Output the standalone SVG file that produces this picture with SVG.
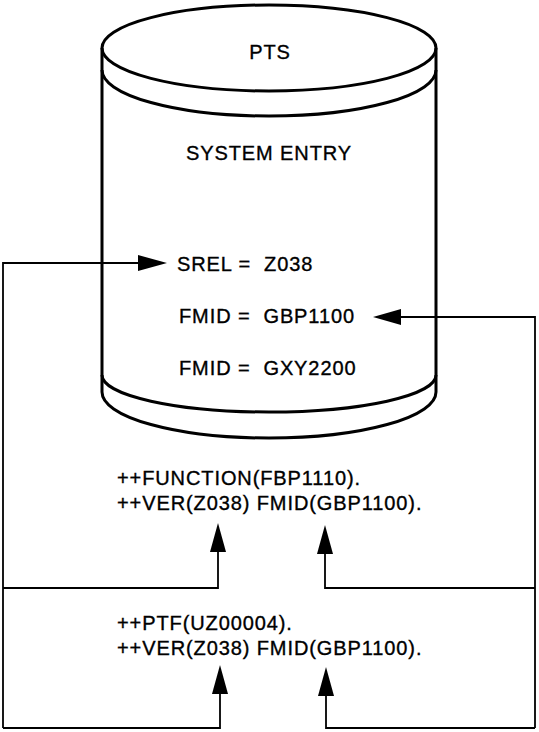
<svg xmlns="http://www.w3.org/2000/svg" width="539" height="732" viewBox="0 0 539 732">
<style>
.t{font-family:"Liberation Sans",Arial,Helvetica,sans-serif;font-size:20px;fill:#000;stroke:#000;stroke-width:0.35;letter-spacing:0.9px;white-space:pre}
.c{text-anchor:middle}
.cyl{fill:none;stroke:#000;stroke-width:3}
.ln{fill:none;stroke:#000;stroke-width:1.8}
.ah{fill:#000;stroke:none}
</style>
<defs>
<polygon id="up" class="ah" points="0,0 -8,29 8,29"/>
</defs>
<rect width="539" height="732" fill="#fff"/>
<g id="pts">
<ellipse class="cyl" cx="269" cy="48" rx="167" ry="43"/>
<path class="cyl" d="M102,48 V392 M436,48 V392"/>
<path class="cyl" d="M102,70 A167,46 0 0 0 436,70"/>
<path class="cyl" d="M102,375 A167,37 0 0 0 436,375"/>
<path class="cyl" d="M102,392 A167,46 0 0 0 436,392"/>
<text class="t c" x="270" y="59">PTS</text>
<text class="t c" x="269" y="160">SYSTEM ENTRY</text>
<text class="t" x="177" y="271">SREL =  Z038</text>
<text class="t" x="179" y="323">FMID =  GBP1100</text>
<text class="t" x="179" y="375">FMID =  GXY2200</text>
</g>
<g id="function">
<text class="t" x="117" y="485">++FUNCTION(FBP1110).</text>
<text class="t" x="117" y="510">++VER(Z038) FMID(GBP1100).</text>
</g>
<g id="ptf">
<text class="t" x="117" y="630">++PTF(UZ00004).</text>
<text class="t" x="117" y="655">++VER(Z038) FMID(GBP1100).</text>
</g>
<g id="connectors">
<path class="ln" d="M3,728 V263 H140"/>
<polygon class="ah" points="167,263 138,255 138,271"/>
<path class="ln" d="M535,728 V317 H398"/>
<polygon class="ah" points="373,317 401,309 401,325"/>
<path class="ln" d="M3,588 H218 V550"/>
<use href="#up" x="218" y="523"/>
<path class="ln" d="M535,588 H325 V552"/>
<use href="#up" x="325" y="525"/>
<path class="ln" d="M3,728 H220 V693"/>
<use href="#up" x="220" y="665"/>
<path class="ln" d="M535,728 H326 V695"/>
<use href="#up" x="326" y="667"/>
</g>
</svg>
